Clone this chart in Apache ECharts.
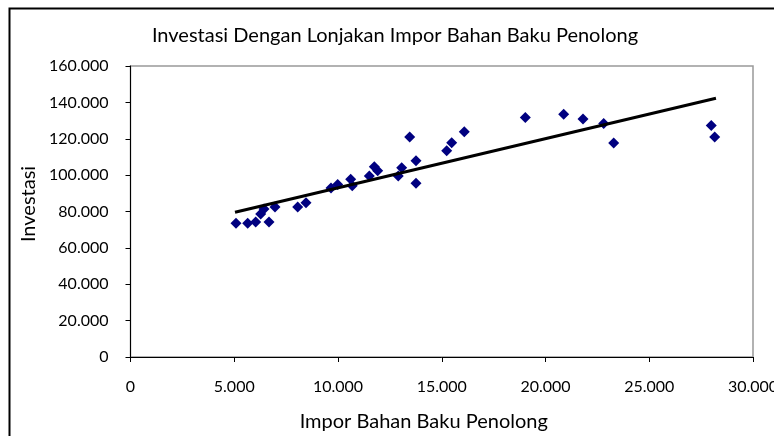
<!DOCTYPE html>
<html><head><meta charset="utf-8">
<script src="https://cdn.jsdelivr.net/npm/echarts@6/dist/echarts.min.js"></script>
<style>html,body{margin:0;padding:0;background:#fff}#c{width:774px;height:436px}</style>
</head><body><div id="c"></div>
<script>
var title = "Investasi Dengan Lonjakan Impor Bahan Baku Penolong";
var xName = "Impor Bahan Baku Penolong";
var yName = "Investasi";
var imporX = [5084,5648,6033,6274,6433,6674,6963,8057,8457,9662,9985,10611,10688,11508,11749,11913,12905,13069,13455,13758,13758,15238,15479,16086,19026,20876,21806,22804,23286,27989,28153];
var investasiY = [73500,73500,74200,78600,81400,74200,82500,82500,84800,92900,94900,97700,94200,99500,104600,102400,99500,104000,121000,107900,95500,113400,117800,123800,131700,133500,130800,128400,117600,127300,121000];
var trendX = [5036, 28215];
var trendY = [79600, 142300];

function fmt(v){ return v === 0 ? '0' : String(v).replace(/\B(?=(\d{3})+(?!\d))/g, '.'); }

var pts = imporX.map(function(x,i){ return [x, investasiY[i]]; });
var tline = trendX.map(function(x,i){ return [x, trendY[i]]; });
var FONT = 'Lato';
var chart = echarts.init(document.getElementById('c'), null, {renderer:'canvas'});
chart.setOption({
  animation:false,
  backgroundColor:'#fff',
  title:{text:title, left:390, top:21, textAlign:'center',
    textStyle:{fontFamily:FONT, fontSize:20, fontWeight:'normal', color:'#000'}},
  grid:{left:130.5, right:21, top:66, bottom:79, show:true, borderColor:'#999', borderWidth:1.5, backgroundColor:'transparent', containLabel:false, outerBoundsMode:'none'},
  xAxis:{type:'value', min:0, max:30000, interval:5000,
    name:xName, nameLocation:'middle', nameGap:55,
    nameTextStyle:{fontFamily:FONT, fontSize:20, color:'#000', padding:[0,36,0,0]},
    axisLine:{show:true, onZero:false, lineStyle:{color:'#000', width:1}},
    axisTick:{show:true, inside:false, length:5, lineStyle:{color:'#000'}},
    axisLabel:{fontFamily:FONT, fontSize:16, color:'#000', margin:22, formatter:fmt},
    splitLine:{show:false}},
  yAxis:{type:'value', min:0, max:160000, interval:20000,
    name:yName, nameLocation:'middle', nameGap:88, nameRotate:90,
    nameTextStyle:{fontFamily:FONT, fontSize:20, color:'#000', padding:[0,0,0,15]},
    axisLine:{show:true, onZero:false, lineStyle:{color:'#000', width:1}},
    axisTick:{show:true, inside:false, length:5, lineStyle:{color:'#000'}},
    axisLabel:{fontFamily:FONT, fontSize:16, color:'#000', margin:22, formatter:fmt},
    splitLine:{show:false}},
  graphic:[{type:'rect', shape:{x:9.5, y:8.5, width:900, height:600}, style:{fill:'none', stroke:'#000', lineWidth:2}, z:100, silent:true}],
  series:[
    {type:'scatter', data:pts, symbol:'diamond', symbolSize:11, itemStyle:{color:'#000080', opacity:1}, z:3},
    {type:'line', data:tline, symbol:'none', lineStyle:{color:'#000', width:3}, z:4}
  ]
});
</script></body></html>
